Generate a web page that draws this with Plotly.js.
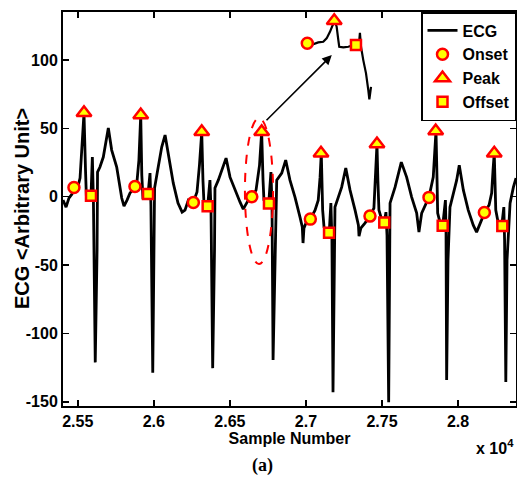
<!DOCTYPE html>
<html>
<head>
<meta charset="utf-8">
<script src="https://cdn.plot.ly/plotly-3.0.1.min.js"></script>
<style>html,body{margin:0;padding:0;background:#fff;}#chart{width:517px;height:484px;}</style>
</head>
<body>
<div id="chart"></div>
<script>
// ECG trace (sample number, amplitude)
var ecgX = [25403,25423,25442,25462,25475,25502,25515,25528,25541,25551,25557,25574,25587,25596,25603,25615,25627,25630,25646,25668,25686,25701,25723,25756,25789,25804,25824,25843,25876,
 25889,25902,25914,25921,25929,25949,25962,25975,25981,25993,26001,26005,26029,26052,26074,26095,26128,26159,26186,26205,26227,26260,
 26284,26300,26315,26323,26330,26354,26369,26376,26387,26399,26402,26424,26450,26475,26501,26534,26567,26588,26606,26621,26644,
 26672,26695,26709,26718,26724,26737,26755,26770,26777,26784,26797,26808,26841,26867,26895,26928,26961,26976,26981,26987,27016,27029,
 27060,27081,27093,27101,27110,27119,27138,27153,27164,27171,27178,27188,27191,27213,27235,27262,27290,27323,27345,27349,27361,27388,27421,
 27447,27460,27467,27473,27480,27499,27515,27526,27533,27544,27549,27553,27586,27606,27627,27662,27695,27728,27737,27743,27761,27783,27809,
 27837,27849,27855,27862,27866,27881,27899,27917,27921,27925,27934,27947,27969,27991,28008,28035,28067,28100,28122,28155,28173,
 28204,28221,28230,28238,28248,28263,28287,28301,28306,28314,28322,28342,28364,28381];
var ecgY = [-2.5,-7.6,-1.0,1.9,6.3,7.8,13.6,34.1,61.2,19.5,-1.0,0.4,0.4,29,-2.5,-121.2,-39,18,21.7,29,41.4,50.2,34.1,21.7,-1.0,-6.9,-2.5,2.6,7.0,
 10.7,26.8,59.7,15.8,-1.8,2.6,1.9,17.3,-6.1,-128.8,-39,6.3,21.7,36.3,45.1,31.9,9.9,-4.7,-11.3,-9.8,-2.5,-4.0,
 3.4,23.1,47.3,12.1,-5.4,-6.9,12.1,-9.8,-125.4,-39,6.3,12.1,20.9,28.2,14.3,4.8,-4.0,-9.1,-5.4,-2.5,-0.3,
 4.8,23.1,47.3,12.1,-2.5,-4.7,-5.4,18,-6.1,-119.5,-39,12.1,17.3,26.8,12.1,-0.3,-14.9,-22.2,-33.9,-23,-14.9,-16.4,
 -9.8,-2.5,14.3,31.9,-9.8,-22.2,-25.9,-26.6,-4.7,-31.8,-143.1,-46.4,-7.6,-0.3,7.0,20.9,4.8,-9.8,-20.8,-28.8,-23,-19.3,-14.2,
 -8.3,23.1,38.5,12.1,-9.8,-17.1,-18.6,-11.3,-28.1,-150.3,-46.4,-4.7,7.0,15.8,25.3,14.3,-0.3,-12.0,-22.2,-25.9,-12.0,-6.1,-0.3,
 14.3,34.1,48.0,12.1,-12.0,-18.6,-21.5,-2.5,-24.4,-134.1,-46.4,-7.6,2.6,12.1,23.1,4.8,-9.8,-20.8,-25.9,-17.1,-12.0,
 -6.1,2.6,19.5,31.9,-9.8,-18.6,-21.5,-7.6,-31.8,-135.6,-46.4,-4.7,7.0,13.6];

var onsetX = [25475,25876,26260,26644,27029,27421,27809,28173];
var onsetY = [6.8,7.5,-4.2,0,-16.4,-14.2,-0.5,-11.5];
var peakX = [25541,25914,26315,26709,27099,27467,27853,28238];
var peakY = [61.4,59.7,47.5,47.5,31.7,38.5,48,31.7];
var offsetX = [25587,25962,26354,26757,27152,27515,27899,28291];
var offsetY = [0.7,1.9,-6.9,-4.9,-26.4,-18.8,-21.3,-21.5];

// magnified beat drawn at top
var insetX = [26983,27009,27033,27081,27114,27136,27158,27176,27191,27202,27213,27219,27246,27279,27311,27334,27349,27355,27362,27377,27395,27410,27417,27428];
var insetY = [112.2,112.2,110.9,112.9,113.3,115.8,120.6,125.5,128.0,124.3,114.6,109.7,109.2,109.7,110.9,111.4,112.2,119.9,109.7,99.9,90.2,78.0,71.2,80.4];
var insetOnX = [27009], insetOnY = [112.2];
var insetPkX = [27186], insetPkY = [128.7];
var insetOffX = [27329], insetOffY = [110.9];

var xTickVals = [25500,26000,26500,27000,27500,28000];
var xTickText = ['2.55','2.6','2.65','2.7','2.75','2.8'];
var yTickVals = [-150,-100,-50,0,50,100];
var yTickText = ['-150','-100','-50','0','50','100'];

var FONT = 'Liberation Sans, Arial, sans-serif';
var onM = {symbol:'circle', size:11, color:'#ffff00', line:{color:'#ff0000', width:2.5}};
var pkM = {symbol:'triangle-up', size:13, color:'#ffff00', line:{color:'#ff0000', width:2.5}};
var offM = {symbol:'square', size:10, color:'#ffff00', line:{color:'#ff0000', width:2.5}};

var traces = [
  {x:ecgX, y:ecgY, mode:'lines', name:'ECG', line:{color:'#000', width:2.8}},
  {x:onsetX, y:onsetY, mode:'markers', name:'Onset', marker:onM},
  {x:peakX, y:peakY, mode:'markers', name:'Peak', marker:pkM},
  {x:offsetX, y:offsetY, mode:'markers', name:'Offset', marker:offM},
  {x:insetX, y:insetY, mode:'lines', showlegend:false, line:{color:'#000', width:2.2}},
  {x:insetOnX, y:insetOnY, mode:'markers', showlegend:false, marker:onM},
  {x:insetPkX, y:insetPkY, mode:'markers', showlegend:false, marker:pkM},
  {x:insetOffX, y:insetOffY, mode:'markers', showlegend:false, marker:offM}
];

var layout = {
  width:517, height:484,
  margin:{l:63, r:1, t:12, b:78},
  paper_bgcolor:'#fff', plot_bgcolor:'#fff',
  font:{family:FONT, size:16, color:'#000', weight:'bold'},
  showlegend:true,
  legend:{x:1, y:1, xanchor:'right', yanchor:'top', bgcolor:'#fff', bordercolor:'#000', borderwidth:1.5,
          font:{family:FONT, size:16, color:'#000', weight:'bold'}, itemwidth:30, tracegroupgap:0},
  xaxis:{range:[25403,28381], tickmode:'array', tickvals:xTickVals, ticktext:xTickText,
         ticks:'inside', ticklen:6, tickwidth:1.5, tickcolor:'#000', showline:true, linecolor:'#000', linewidth:2,
         mirror:'allticks', showgrid:false, zeroline:false,
         tickfont:{family:FONT, size:16, color:'#000', weight:'bold'},
         title:{text:'Sample Number', standoff:4, font:{family:FONT, size:16, color:'#000', weight:'bold'}}},
  yaxis:{range:[-153.1,135.1], tickmode:'array', tickvals:yTickVals, ticktext:yTickText,
         ticks:'inside', ticklen:6, tickwidth:1.5, tickcolor:'#000', showline:true, linecolor:'#000', linewidth:2,
         mirror:'allticks', showgrid:false, zeroline:false,
         tickfont:{family:FONT, size:16, color:'#000', weight:'bold'}},
  shapes:[{type:'circle', xref:'x', yref:'y', x0:26599, x1:26784, y0:-49.3, y1:57.5,
           line:{color:'#ff0000', width:2, dash:'dash'}}],
  annotations:[
    {x:27170, y:103.6, ax:26731, ay:54.8, axref:'x', ayref:'y', xref:'x', yref:'y', text:'',
     showarrow:true, arrowhead:2, arrowsize:1.2, arrowwidth:1.6, arrowcolor:'#000'},
    {xref:'paper', yref:'paper', x:-0.0905, y:0.5, xanchor:'center', yanchor:'middle', textangle:-90, showarrow:false,
     text:'ECG &lt;Arbitrary Unit&gt;', font:{family:FONT, size:20, color:'#000', weight:'bold'}},
    {xref:'paper', yref:'paper', x:1, y:-0.105, xanchor:'right', yanchor:'middle', showarrow:false,
     text:'x 10<sup>4</sup>', font:{family:FONT, size:16, color:'#000', weight:'bold'}},
    {xref:'paper', yref:'paper', x:0.44, y:-0.152, xanchor:'center', yanchor:'middle', showarrow:false,
     text:'(a)', font:{family:'Liberation Serif, Times New Roman, serif', size:18, color:'#000', weight:'bold'}}
  ]
};

Plotly.newPlot('chart', traces, layout, {displayModeBar:false, staticPlot:true});
</script>
</body>
</html>
